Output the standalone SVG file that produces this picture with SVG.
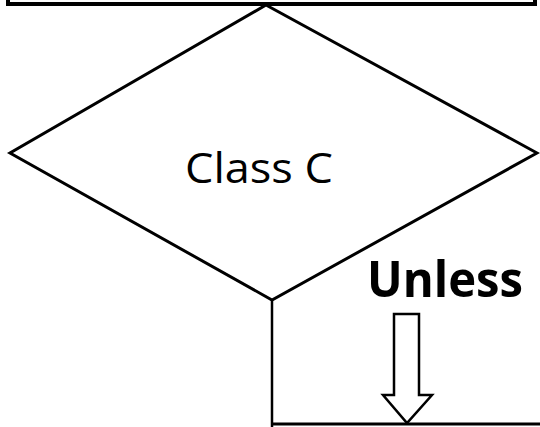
<svg xmlns="http://www.w3.org/2000/svg" width="540" height="427" viewBox="0 0 540 427">
  <style>
    .shape { fill: #ffffff; stroke: #000000; stroke-linejoin: miter; }
    .line { fill: none; stroke: #000000; }
    .label { font-family: "Open Sans", "Liberation Sans", Arial, sans-serif; fill: #000000; }
  </style>
  <rect width="540" height="427" fill="#ffffff"/>

  <!-- process box above the decision (cut off at the top edge) -->
  <g id="top-box">
    <rect class="shape" x="8" y="-20" width="527" height="24" stroke-width="4"/>
  </g>

  <!-- decision node -->
  <g id="class-c">
    <polygon class="shape" points="266,5 537,153 272,300 10,153" stroke-width="3"/>
    <text class="label" x="185" y="183" font-size="42" textLength="148" lengthAdjust="spacingAndGlyphs">Class C</text>
  </g>

  <!-- unless branch label with hollow arrow -->
  <g id="unless">
    <text class="label" x="367" y="297" font-size="50" font-weight="bold" textLength="156" lengthAdjust="spacingAndGlyphs">Unless</text>
    <polygon class="shape" points="394,314 419,314 419,395 432,395 407,423 383,395 394,395" stroke-width="2.5"/>
  </g>

  <!-- connectors -->
  <g id="connectors">
    <polyline class="line" points="272,300 272,427" stroke-width="2.5"/>
    <line class="line" x1="271" y1="424" x2="540" y2="424" stroke-width="3"/>
  </g>
</svg>
